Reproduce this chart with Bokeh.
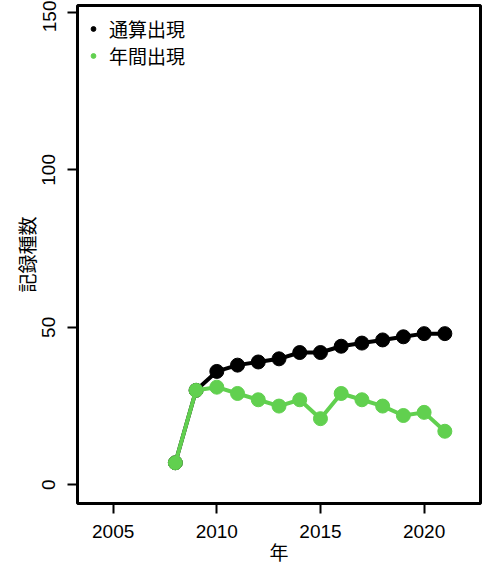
from bokeh.plotting import figure
from bokeh.models import Range1d, FixedTicker, Legend, LegendItem
from bokeh.embed import file_html
from bokeh.resources import INLINE

years = [2008, 2009, 2010, 2011, 2012, 2013, 2014, 2015, 2016, 2017, 2018, 2019, 2020, 2021]
cumulative = [7, 30, 36, 38, 39, 40, 42, 42, 44, 45, 46, 47, 48, 48]
annual = [7, 30, 31, 29, 27, 25, 27, 21, 29, 27, 25, 22, 23, 17]
x_ticks = [2005, 2010, 2015, 2020]
y_ticks = [0, 50, 100, 150]
series_names = ["通算出現", "年間出現"]
colors = ["#000000", "#61D04F"]

FONT = "'Liberation Sans', 'Noto Sans CJK JP', sans-serif"

p = figure(width=485, height=564, frame_width=403, frame_height=498,
           output_backend="svg", toolbar_location=None,
           x_range=Range1d(2003.28, 2022.72), y_range=Range1d(-5.94, 152.2),
           min_border_left=77, min_border_right=5, min_border_top=5, min_border_bottom=61)

p.grid.visible = False
p.outline_line_color = "black"
p.outline_line_width = 3
p.background_fill_color = "white"
p.border_fill_color = "white"

for ax in (p.xaxis[0], p.yaxis[0]):
    ax.axis_line_color = None
    ax.major_tick_out = 10
    ax.major_tick_in = 0
    ax.major_tick_line_width = 2
    ax.minor_tick_line_color = None
    ax.major_label_text_font = FONT
    ax.major_label_text_font_size = "19px"
    ax.major_label_text_color = "black"
    ax.axis_label_text_font = FONT
    ax.axis_label_text_font_size = "19px"
    ax.axis_label_text_font_style = "normal"
    ax.axis_label_text_color = "black"

p.xaxis.ticker = FixedTicker(ticks=x_ticks)
p.yaxis.ticker = FixedTicker(ticks=y_ticks)
p.xaxis.axis_label = "年"
p.yaxis.axis_label = "記録種数"
p.xaxis.major_label_standoff = 11
p.xaxis.axis_label_standoff = 2
p.yaxis.major_label_standoff = 12
p.yaxis.axis_label_standoff = 1
p.yaxis.major_label_orientation = "vertical"

# series
p.line(years, cumulative, line_color=colors[0], line_width=4)
p.scatter(years, cumulative, size=14, fill_color=colors[0], line_color=colors[0])
p.line(years, annual, line_color=colors[1], line_width=4)
p.scatter(years, annual, size=14, fill_color=colors[1], line_color=colors[1])

# legend markers (placed outside the visible range; only shown in the legend)
r1 = p.scatter([1900], [-1000], size=8, fill_color=colors[0], line_color=colors[0])
r2 = p.scatter([1900], [-1000], size=8, fill_color=colors[1], line_color=colors[1])
legend = Legend(items=[LegendItem(label=series_names[0], renderers=[r1]),
                       LegendItem(label=series_names[1], renderers=[r2])],
                location="top_left", margin=10, padding=0, spacing=0,
                glyph_width=12, glyph_height=23, label_height=23, label_standoff=10,
                label_text_font=FONT, label_text_font_size="19px", label_text_color="black",
                border_line_color=None, background_fill_alpha=0)
p.add_layout(legend)

open("out.html", "w").write(file_html(p, INLINE))
